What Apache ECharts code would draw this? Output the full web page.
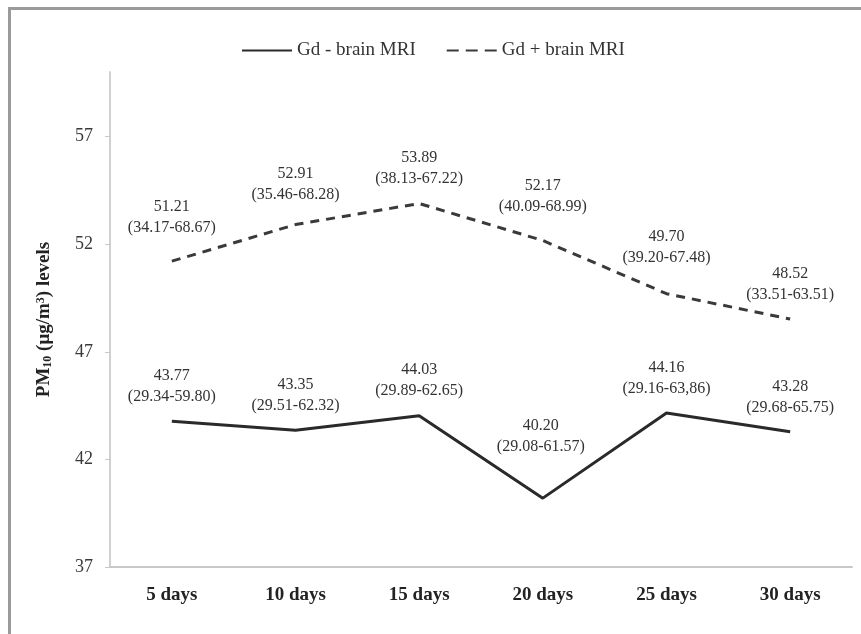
<!DOCTYPE html>
<html>
<head>
<meta charset="utf-8">
<script src="https://cdn.jsdelivr.net/npm/echarts@6/dist/echarts.min.js"></script>
<style>
html, body { margin: 0; padding: 0; background: #fff; }
#frame { position: absolute; left: 8px; top: 7px; width: 870px; height: 640px;
  border-left: 3px solid #9a9a9a; border-top: 3px solid #9a9a9a; }
#chart { position: absolute; left: 0; top: 0; width: 861px; height: 634px; }
</style>
</head>
<body>
<div id="frame"></div>
<div id="chart"></div>
<script>
var days = ['5 days', '10 days', '15 days', '20 days', '25 days', '30 days'];
var gdMinus = [43.77, 43.35, 44.03, 40.20, 44.16, 43.28];
var gdMinusRange = ['29.34-59.80', '29.51-62.32', '29.89-62.65', '29.08-61.57', '29.16-63,86', '29.68-65.75'];
var gdPlus = [51.21, 52.91, 53.89, 52.17, 49.70, 48.52];
var gdPlusRange = ['34.17-68.67', '35.46-68.28', '38.13-67.22', '40.09-68.99', '39.20-67.48', '33.51-63.51'];

var serif = '"Liberation Serif", "DejaVu Serif", serif';

// labels were nudged by hand in the original, copy that
var minusShift = { 3: [-2, -27] };
var plusShift = { 0: [0, -9], 1: [0, -5], 3: [0, -9], 4: [0, -11] };

function make_data(values, shift) {
    return values.map(function (v, i) {
        var d = { value: v };
        if (shift[i]) d.label = { offset: shift[i] };
        return d;
    });
}

function make_label(ranges) {
    return {
        show: true,
        position: 'top',
        distance: 13,
        fontFamily: serif,
        fontSize: 16,
        lineHeight: 21,
        color: '#333',
        formatter: function (p) {
            return p.value.toFixed(2) + '\n(' + ranges[p.dataIndex] + ')';
        }
    };
}

var chart = echarts.init(document.getElementById('chart'));
chart.setOption({
    animation: false,
    legend: {
        top: 36,
        left: 236,
        itemWidth: 50,
        itemHeight: 14,
        itemGap: 30,
        itemStyle: { opacity: 0 },
        textStyle: { fontFamily: serif, fontSize: 19, color: '#333' },
        data: [
            { name: 'Gd - brain MRI' },
            { name: 'Gd + brain MRI', lineStyle: { type: [12, 7] } }
        ]
    },
    grid: { left: 110, right: 9, top: 72, bottom: 67 },
    xAxis: {
        type: 'category',
        data: days,
        axisLine: { lineStyle: { color: '#c8c8c8', width: 2 } },
        axisTick: { show: false },
        axisLabel: { margin: 19, fontFamily: serif, fontSize: 19, fontWeight: 'bold', color: '#222' }
    },
    yAxis: {
        type: 'value',
        min: 37,
        max: 60,
        interval: 5,
        name: '{a|PM}{s|10}{a| (μg/m}{p|3}{a|) levels}',
        nameLocation: 'middle',
        nameRotate: 90,
        nameGap: 56,
        nameTextStyle: {
            rich: {
                a: { fontFamily: serif, fontSize: 19, fontWeight: 'bold', color: '#222' },
                s: { fontFamily: serif, fontSize: 12, fontWeight: 'bold', color: '#222', verticalAlign: 'bottom', padding: [7, 0, 0, 0] },
                p: { fontFamily: serif, fontSize: 12, fontWeight: 'bold', color: '#222', verticalAlign: 'top', padding: [0, 0, 7, 0] }
            }
        },
        splitLine: { show: false },
        axisLine: { show: true, lineStyle: { color: '#d0d0d0', width: 2 } },
        axisTick: { show: true, length: 5, lineStyle: { color: '#c8c8c8' } },
        axisLabel: {
            margin: 17,
            showMaxLabel: false,
            fontFamily: serif, fontSize: 18, color: '#3a3a3a'
        }
    },
    series: [
        {
            name: 'Gd - brain MRI',
            type: 'line',
            data: make_data(gdMinus, minusShift),
            symbol: 'circle',
            symbolSize: 2,
            showSymbol: true,
            lineStyle: { color: '#2a2a2a', width: 3 },
            itemStyle: { color: 'transparent', borderWidth: 0 },
            label: make_label(gdMinusRange)
        },
        {
            name: 'Gd + brain MRI',
            type: 'line',
            data: make_data(gdPlus, plusShift),
            symbol: 'circle',
            symbolSize: 2,
            showSymbol: true,
            lineStyle: { color: '#3a3a3a', width: 3, type: [9, 7] },
            itemStyle: { color: 'transparent', borderWidth: 0 },
            label: make_label(gdPlusRange)
        }
    ]
});
</script>
</body>
</html>
